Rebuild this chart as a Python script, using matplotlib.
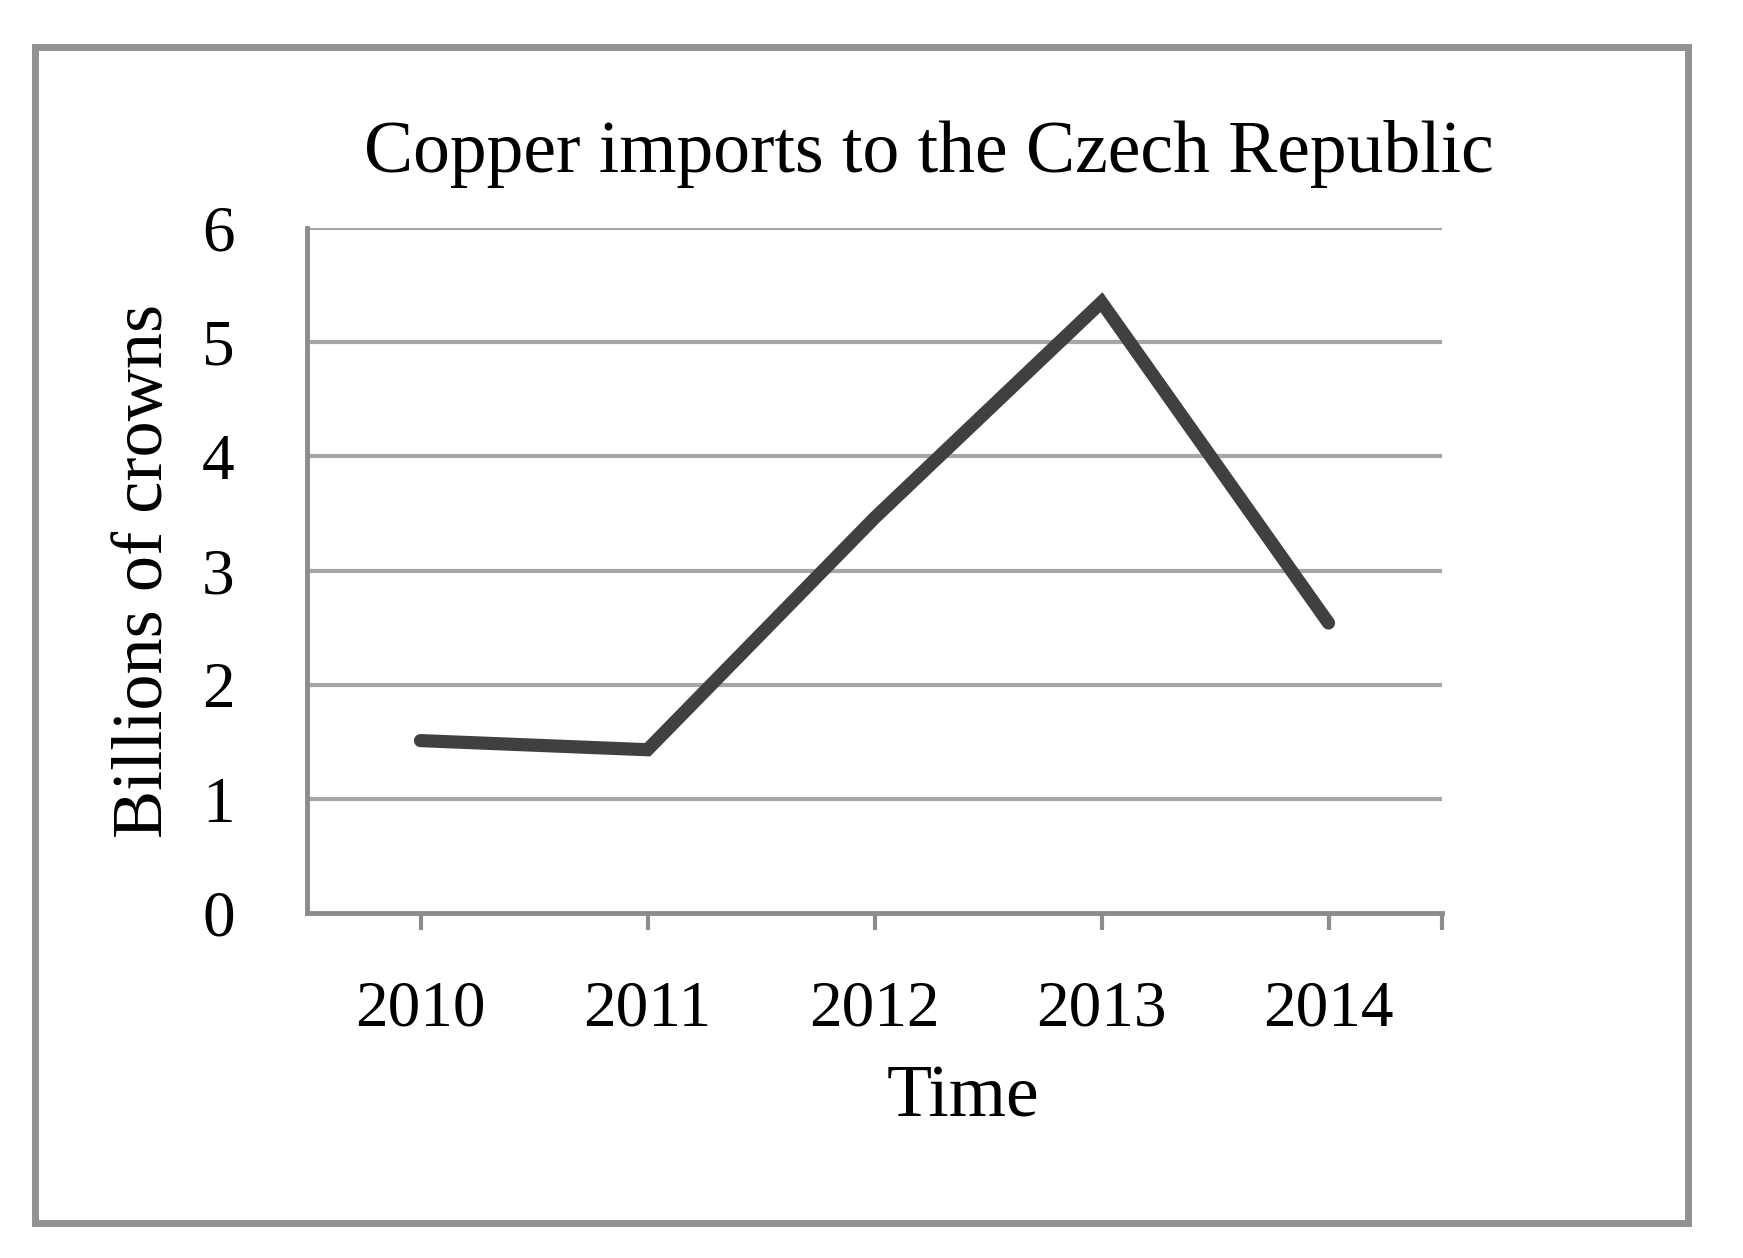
import matplotlib.pyplot as plt
from matplotlib.patches import Rectangle

# Data
years = ["2010", "2011", "2012", "2013", "2014"]
imports = [1.51, 1.43, 3.46, 5.35, 2.54]
y_ticks = [0, 1, 2, 3, 4, 5, 6]

GRAY = "#a6a6a6"
SPINE = "#8c8c8c"

plt.rcParams['font.family'] = ['Liberation Serif', 'DejaVu Serif']

fig = plt.figure(figsize=(17.43, 12.58), dpi=100)
ax = fig.add_axes([307 / 1743, 1 - 913 / 1258, (1442 - 307) / 1743, (913 - 228) / 1258])

# Outer frame round the whole chart
fig.patches.append(Rectangle((35 / 1743, 1 - 1223 / 1258), (1688 - 35) / 1743, (1223 - 47) / 1258,
                             transform=fig.transFigure, fill=False, edgecolor="#929292", linewidth=5))

# Horizontal gridlines
for v in y_ticks[1:]:
    ax.axhline(v, color=GRAY, linewidth=3, zorder=1)

x = list(range(len(years)))
ax.plot(x, imports, color="#404040", linewidth=9.5, solid_capstyle="round",
        solid_joinstyle="miter", zorder=3)

ax.set_xlim(-0.5, len(years) - 0.5)
ax.set_ylim(0, 6)
ax.set_xticks(x)
ax.set_xticks([len(years) - 0.5], minor=True)
ax.set_xticklabels(years, fontsize=47)
ax.set_yticks(y_ticks)
ax.set_yticklabels([str(v) for v in y_ticks], fontsize=47)

ax.tick_params(axis="x", which="both", length=12, width=3, color=SPINE, pad=36)
ax.tick_params(axis="y", length=0, pad=52)

for side in ["top", "right"]:
    ax.spines[side].set_visible(False)
for side in ["left", "bottom"]:
    ax.spines[side].set_color(SPINE)
    ax.spines[side].set_linewidth(3.5)

ax.set_ylabel("Billions of crowns", fontsize=52, labelpad=18)
ax.set_xlabel("Time", fontsize=53)
ax.xaxis.set_label_coords((963 - 307) / (1442 - 307), -0.222)

fig.text(929 / 1743, 1 - 154 / 1258, "Copper imports to the Czech Republic",
         fontsize=53, ha="center", va="center")

fig.savefig("out.png", dpi=100)
